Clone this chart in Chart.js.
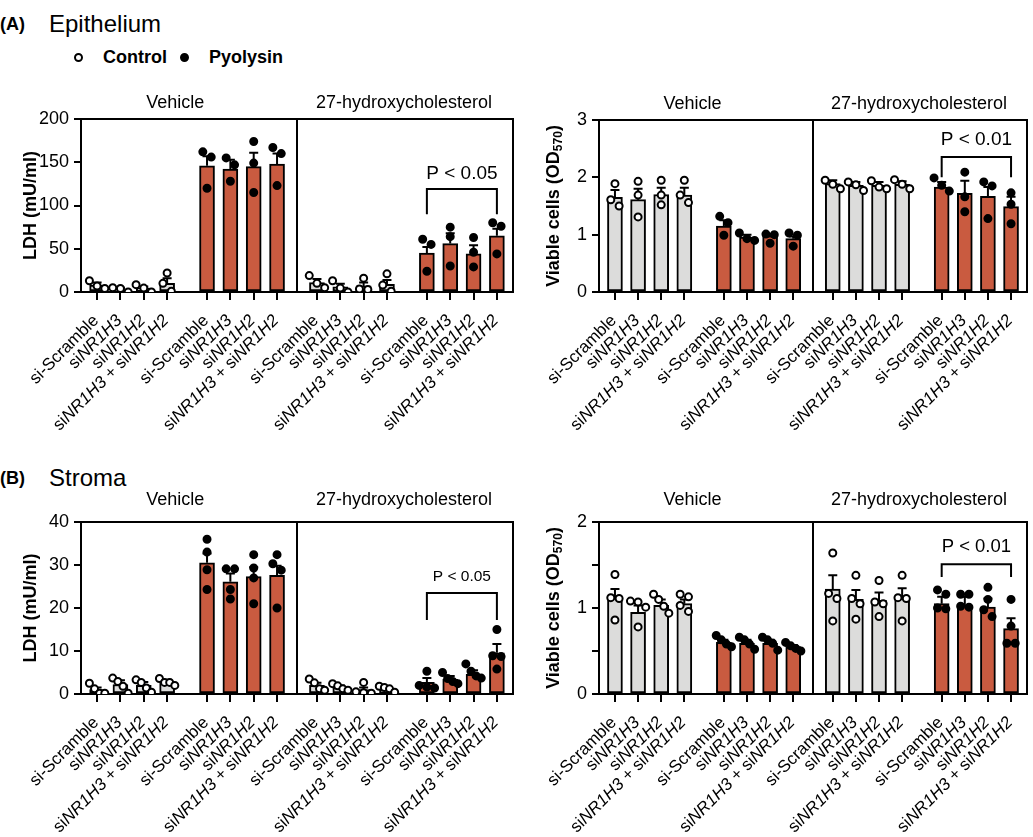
<!DOCTYPE html>
<html lang="en">
<head>
<meta charset="UTF-8">
<title>LXR knockdown – LDH and viable cells</title>
<script src="https://cdn.jsdelivr.net/npm/chart.js"></script>
<style>
  body { margin: 0; background: #fff; font-family: "Liberation Sans", Arial, sans-serif; color: #000; }
  #page { position: relative; width: 1033px; height: 837px; overflow: hidden; }
  canvas { position: absolute; }
  .txt { position: absolute; white-space: nowrap; }
  .dot { position: absolute; width: 5px; height: 5px; border: 2px solid #000; border-radius: 50%; }
</style>
</head>
<body>
<div id="page">
  <div class="txt" style="left:0;top:15px;font-size:18px;line-height:18px;font-weight:bold">(A)</div>
  <div class="txt" style="left:49px;top:12px;font-size:24px;line-height:24px">Epithelium</div>
  <div class="dot" style="left:74px;top:53px;background:#fff"></div>
  <div class="txt" style="left:103px;top:48px;font-size:18px;line-height:18px;font-weight:bold">Control</div>
  <div class="dot" style="left:180px;top:53px;background:#000"></div>
  <div class="txt" style="left:209px;top:48px;font-size:18px;line-height:18px;font-weight:bold">Pyolysin</div>

  <div class="txt" style="left:0;top:469px;font-size:18px;line-height:18px;font-weight:bold">(B)</div>
  <div class="txt" style="left:49px;top:466px;font-size:24px;line-height:24px">Stroma</div>

  <canvas id="epiLdh" width="520" height="385" style="left:0;top:85px"></canvas>
  <canvas id="epiVia" width="513" height="385" style="left:520px;top:85px"></canvas>
  <canvas id="strLdh" width="520" height="352" style="left:0;top:485px"></canvas>
  <canvas id="strVia" width="513" height="352" style="left:520px;top:485px"></canvas>
</div>
<script>
// categories
const xLabels = ['si-Scramble', 'siNR1H3', 'siNR1H2', 'siNR1H3 + siNR1H2'];
const treatmentLabels = ['Vehicle', '27-hydroxycholesterol'];
// groups go Control, Pyolysin, Control, Pyolysin
const groupIsPyolysin = [false, true, false, true];

// (A) epithelium, LDH
const epiLdhMean = [8, 3, 4.5, 10, 146, 142, 145, 148, 11, 6, 7, 9, 45, 56, 44, 65];
const epiLdhSemTop = [11, 5, 6.5, 16, 157, 153, 161, 160, 15, 9.5, 11, 14, 52, 68, 54, 73];
const epiLdhPoints = [
  [13, 4, 7], [0, 4, 5], [8.5, 0, 4.5], [22, 10, 1],
  [162, 156, 120], [155, 147, 128], [174, 149, 115], [167, 160, 123],
  [19, 5, 10], [13, 0, 4.5], [16, 3.5, 3], [21, 1, 8],
  [61, 55, 24], [75, 64, 30], [63, 46, 29], [80, 76, 44]
];

// (A) epithelium, viable cells
const epiViaMean = [1.65, 1.61, 1.70, 1.69, 1.15, 0.96, 0.98, 0.93, 1.89, 1.86, 1.86, 1.88, 1.83, 1.72, 1.67, 1.49];
const epiViaSemTop = [1.78, 1.80, 1.82, 1.82, 1.25, 1.00, 1.01, 0.97, 1.95, 1.92, 1.92, 1.93, 1.92, 1.94, 1.83, 1.66];
const epiViaPoints = [
  [1.89, 1.61, 1.50], [1.93, 1.69, 1.31], [1.95, 1.69, 1.52], [1.95, 1.69, 1.56],
  [1.32, 1.21, 0.99], [1.03, 0.93, 0.90], [1.01, 1.00, 0.85], [1.03, 0.99, 0.80],
  [1.95, 1.88, 1.80], [1.92, 1.87, 1.77], [1.94, 1.83, 1.80], [1.96, 1.88, 1.80],
  [1.99, 1.86, 1.76], [2.09, 1.66, 1.40], [1.92, 1.85, 1.28], [1.73, 1.53, 1.19]
];

// (B) stroma, LDH
const strLdhMean = [1.0, 2.2, 2.0, 2.7, 30.5, 26.1, 27.3, 27.6, 2.0, 1.5, 1.0, 1.1, 2.7, 3.4, 4.6, 9.6];
const strLdhSemTop = [1.5, 3.2, 2.8, 3.3, 32.7, 28.0, 29.5, 29.8, 2.6, 2.0, 1.5, 1.4, 3.7, 4.2, 5.5, 11.6];
const strLdhPoints = [
  [2.5, 1.2, 0.2, 0.2], [3.7, 2.9, 1.8, 0.2], [3.3, 2.7, 1.4, 0.4], [3.6, 2.7, 2.7, 2.0],
  [36.0, 33.0, 28.9, 24.3], [29.1, 29.1, 24.3, 22.1], [32.4, 29.3, 27.0, 21.0], [32.4, 30.3, 28.8, 20.0],
  [3.5, 2.6, 1.2, 0.9], [2.4, 1.9, 1.2, 0.9], [2.7, 0.5, 0.3, 0.2], [1.8, 1.5, 1.2, 0.4],
  [5.3, 2.0, 1.6, 1.4], [5.0, 3.6, 2.9, 2.4], [7.0, 5.3, 4.2, 3.7], [15.0, 8.9, 8.7, 5.8]
];

// (B) stroma, viable cells
const strViaMean = [1.12, 0.95, 1.03, 1.05, 0.60, 0.59, 0.59, 0.55, 1.22, 1.10, 1.09, 1.12, 1.05, 1.03, 1.01, 0.76];
const strViaSemTop = [1.22, 1.03, 1.10, 1.10, 0.63, 0.63, 0.63, 0.57, 1.38, 1.21, 1.18, 1.23, 1.13, 1.13, 1.11, 0.88];
const strViaPoints = [
  [1.39, 1.12, 1.11, 0.86], [1.08, 1.07, 1.01, 0.78], [1.16, 1.10, 1.02, 0.94], [1.16, 1.13, 1.03, 0.96],
  [0.68, 0.63, 0.58, 0.55], [0.66, 0.63, 0.58, 0.52], [0.66, 0.63, 0.59, 0.51], [0.60, 0.56, 0.53, 0.50],
  [1.64, 1.17, 1.11, 0.85], [1.38, 1.11, 1.05, 0.87], [1.32, 1.07, 1.05, 0.90], [1.38, 1.12, 1.11, 0.85],
  [1.21, 1.16, 1.00, 0.99], [1.16, 1.16, 1.02, 1.01], [1.24, 1.10, 0.98, 0.90], [1.10, 0.79, 0.59, 0.59]
];

const FONT = '"Liberation Sans", Arial, sans-serif';
const RED = '#C95B40';
const GREY = '#DCDCDB';
const groupGap = 1.71;
const edge = 0.69;

const positions = [];
for (let g = 0; g < 4; g++) for (let i = 0; i < 4; i++) positions.push(g * (3 + groupGap) + i);
const dividerPos = (positions[7] + positions[8]) / 2;

// spread overlapping dots sideways, like a column scatter
function spread(vals, yMax) {
  const thr = yMax * 8 / 173;
  const idx = vals.map((v, i) => i).sort((a, b) => vals[b] - vals[a]);
  const offs = new Array(vals.length).fill(0);
  let cl = [idx[0]];
  const flush = () => {
    const step = cl.length <= 2 ? 0.36 : 0.66 / (cl.length - 1);
    cl.forEach((k, j) => offs[k] = (j - (cl.length - 1) / 2) * step);
  };
  for (let j = 1; j < idx.length; j++) {
    if (vals[cl[cl.length - 1]] - vals[idx[j]] < thr) cl.push(idx[j]);
    else { flush(); cl = [idx[j]]; }
  }
  flush();
  return offs;
}

function labelParts(s) {
  return s.split(/(NR1H\d)/).filter(Boolean).map(t => [t, /^NR1H\d$/.test(t)]);
}

function makePanel(id, p) {
  const barColors = positions.map((v, k) => groupIsPyolysin[Math.floor(k / 4)] ? RED : GREY);
  const pts = [], ptFill = [];
  p.points.forEach((vals, k) => {
    const offs = spread(vals, p.yMax);
    vals.forEach((v, j) => {
      pts.push({ x: positions[k] + offs[j], y: v });
      ptFill.push(groupIsPyolysin[Math.floor(k / 4)] ? '#000' : '#fff');
    });
  });

  const deco = {
    id: 'deco' + id,
    afterDatasetDraw(chart, args) {
      if (args.index !== 0) return;
      const ctx = chart.ctx, xs = chart.scales.x, ys = chart.scales.y;
      ctx.save();
      ctx.strokeStyle = '#000';
      ctx.lineWidth = 2;
      p.mean.forEach((m, k) => {
        const x = xs.getPixelForValue(positions[k]);
        const y0 = ys.getPixelForValue(m), y1 = ys.getPixelForValue(p.semTop[k]);
        ctx.beginPath();
        ctx.moveTo(x, y0); ctx.lineTo(x, y1);
        ctx.moveTo(x - 4.5, y1); ctx.lineTo(x + 4.5, y1);
        ctx.stroke();
      });
      ctx.restore();
    },
    afterDraw(chart) {
      const ctx = chart.ctx, a = chart.chartArea, xs = chart.scales.x, ys = chart.scales.y;
      ctx.save();
      ctx.strokeStyle = '#000';
      ctx.lineWidth = 2;
      const dx = xs.getPixelForValue(dividerPos);
      ctx.beginPath();
      ctx.moveTo(a.left, a.top); ctx.lineTo(a.right, a.top); ctx.lineTo(a.right, a.bottom);
      ctx.moveTo(dx, a.top); ctx.lineTo(dx, a.bottom);
      ctx.stroke();

      // treatment headers
      ctx.fillStyle = '#000';
      ctx.font = '18px ' + FONT;
      ctx.textAlign = 'center';
      ctx.textBaseline = 'middle';
      ctx.fillText(treatmentLabels[0], xs.getPixelForValue(3.35), a.top - p.headGap);
      ctx.fillText(treatmentLabels[1], xs.getPixelForValue(13.15), a.top - p.headGap);

      // rotated category labels with italic gene names
      positions.forEach((v, k) => {
        const parts = labelParts(xLabels[k % 4]);
        ctx.save();
        ctx.translate(xs.getPixelForValue(v) - 1, a.bottom + 26);
        ctx.rotate(-Math.PI / 4);
        ctx.textAlign = 'left';
        let w = 0;
        parts.forEach(([t, it]) => { ctx.font = (it ? 'italic ' : '') + '17px ' + FONT; w += ctx.measureText(t).width; });
        let x = -w;
        parts.forEach(([t, it]) => {
          ctx.font = (it ? 'italic ' : '') + '17px ' + FONT;
          ctx.fillText(t, x, 0);
          x += ctx.measureText(t).width;
        });
        ctx.restore();
      });

      // y title
      ctx.save();
      ctx.translate(p.titleX, (a.top + a.bottom) / 2);
      ctx.rotate(-Math.PI / 2);
      ctx.textAlign = 'left';
      ctx.textBaseline = 'middle';
      let w = 0;
      p.yTitle.forEach(([t, sub]) => { ctx.font = 'bold ' + (sub ? 12 : 18) + 'px ' + FONT; w += ctx.measureText(t).width; });
      let x = -w / 2;
      p.yTitle.forEach(([t, sub]) => {
        ctx.font = 'bold ' + (sub ? 12 : 18) + 'px ' + FONT;
        ctx.fillText(t, x, sub ? 5 : 0);
        x += ctx.measureText(t).width;
      });
      ctx.restore();

      // significance bracket
      const s = p.sig;
      const xa = xs.getPixelForValue(positions[s.from]), xb = xs.getPixelForValue(positions[s.to]);
      const yt = ys.getPixelForValue(s.top), yl = ys.getPixelForValue(s.leg);
      ctx.beginPath();
      ctx.moveTo(xa, yl); ctx.lineTo(xa, yt); ctx.lineTo(xb, yt); ctx.lineTo(xb, yl);
      ctx.stroke();
      ctx.font = s.font + 'px ' + FONT;
      ctx.textAlign = 'center';
      ctx.textBaseline = 'middle';
      ctx.fillText(s.text, (xa + xb) / 2, yt - s.gap);
      ctx.restore();
    }
  };

  return new Chart(document.getElementById(id), {
    type: 'bar',
    data: {
      datasets: [
        {
          type: 'bar',
          data: p.mean.map((m, k) => ({ x: positions[k], y: m })),
          backgroundColor: barColors,
          borderColor: '#000',
          borderWidth: 2,
          borderSkipped: false,
          barThickness: 15,
          order: 2
        },
        {
          type: 'scatter',
          data: pts,
          pointRadius: 3.5,
          pointBorderWidth: 2,
          pointBackgroundColor: ptFill,
          pointBorderColor: '#000',
          order: 1
        }
      ]
    },
    options: {
      responsive: false,
      animation: false,
      devicePixelRatio: 1,
      layout: { padding: { top: p.padTop, right: p.padRight, left: 0, bottom: 0 } },
      plugins: { legend: { display: false }, tooltip: { enabled: false } },
      scales: {
        x: {
          type: 'linear',
          min: -edge,
          max: positions[15] + edge,
          offset: false,
          grid: { offset: false, drawOnChartArea: false, tickLength: 8, color: '#000', lineWidth: 2 },
          border: { color: '#000', width: 2 },
          ticks: { display: false, autoSkip: false },
          afterBuildTicks: sc => { sc.ticks = positions.map(v => ({ value: v })); },
          afterFit: sc => { sc.height = p.xH; }
        },
        y: {
          min: 0,
          max: p.yMax,
          grid: { drawOnChartArea: false, tickLength: 7, color: '#000', lineWidth: 2 },
          border: { color: '#000', width: 2 },
          ticks: {
            stepSize: p.yStep,
            padding: 5,
            color: '#000',
            font: { family: FONT, size: 18 },
            callback: v => (p.intOnly && !Number.isInteger(v)) ? '' : v
          },
          afterFit: sc => { sc.width = p.yW; }
        }
      }
    },
    plugins: [deco]
  });
}

makePanel('epiLdh', {
  mean: epiLdhMean, semTop: epiLdhSemTop, points: epiLdhPoints,
  yMax: 200, yStep: 50, yW: 81, xH: 178, padTop: 34, padRight: 7, headGap: 16, titleX: 31,
  yTitle: [['LDH (mU/ml)', false]],
  sig: { from: 12, to: 15, top: 119, leg: 90, text: 'P < 0.05', font: 19, gap: 15 }
});
makePanel('epiVia', {
  mean: epiViaMean, semTop: epiViaSemTop, points: epiViaPoints,
  yMax: 3, yStep: 1, yW: 79, xH: 178, padTop: 35, padRight: 1, headGap: 16, titleX: 34,
  yTitle: [['Viable cells (OD', false], ['570', true], [')', false]],
  sig: { from: 12, to: 15, top: 2.355, leg: 2.0, text: 'P < 0.01', font: 19, gap: 17 }
});
makePanel('strLdh', {
  mean: strLdhMean, semTop: strLdhSemTop, points: strLdhPoints,
  yMax: 40, yStep: 10, yW: 81, xH: 143, padTop: 37, padRight: 7, headGap: 22, titleX: 31,
  yTitle: [['LDH (mU/ml)', false]],
  sig: { from: 12, to: 15, top: 23.5, leg: 17.2, text: 'P < 0.05', font: 15.5, gap: 16 }
});
makePanel('strVia', {
  mean: strViaMean, semTop: strViaSemTop, points: strViaPoints,
  yMax: 2, yStep: 0.5, intOnly: true, yW: 79, xH: 143, padTop: 37, padRight: 1, headGap: 22, titleX: 34,
  yTitle: [['Viable cells (OD', false], ['570', true], [')', false]],
  sig: { from: 12, to: 15, top: 1.51, leg: 1.36, text: 'P < 0.01', font: 18.5, gap: 17 }
});
</script>
</body>
</html>
